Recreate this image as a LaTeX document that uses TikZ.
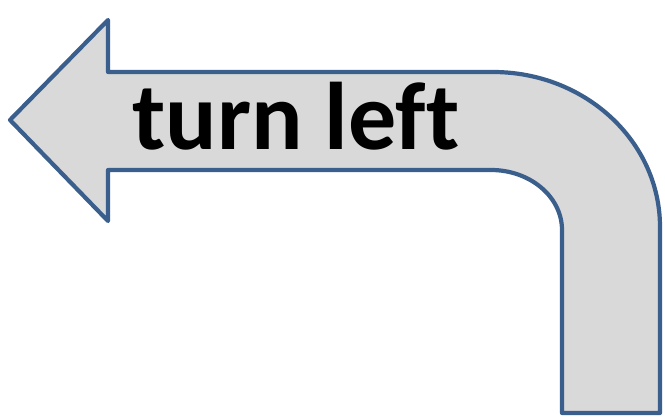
\documentclass[tikz,border=0pt]{standalone}
\usepackage{fontspec}
\setmainfont{Carlito}[Ligatures=NoCommon]
\usetikzlibrary{positioning}
\definecolor{turnEdge}{HTML}{3A5F8D}
\definecolor{turnFill}{HTML}{D9D9D9}
\tikzset{
  turnArrow/.style={
    draw=turnEdge,
    fill=turnFill,
    line width=4.2pt,
    line join=round
  },
  turnLabel/.style={
    font=\fontsize{96}{100}\selectfont\bfseries,
    anchor=base,
    inner sep=0pt
  }
}

\begin{document}
\begin{tikzpicture}[x=1pt,y=-1pt]
  \useasboundingbox (0,0) rectangle (665,417);
  % bent arrow body
  \draw[turnArrow]
    (10,120) -- (108,20) -- (108,72) -- (493,72)
    arc[start angle=-90, end angle=0, x radius=167, y radius=155]
    -- (660,413) -- (562,413) -- (562,230)
    arc[start angle=0, end angle=-90, x radius=71, y radius=60]
    -- (108,170) -- (108,221) -- cycle;
  \node[turnLabel] (label) at (296,150) {turn left};
\end{tikzpicture}
\end{document}
